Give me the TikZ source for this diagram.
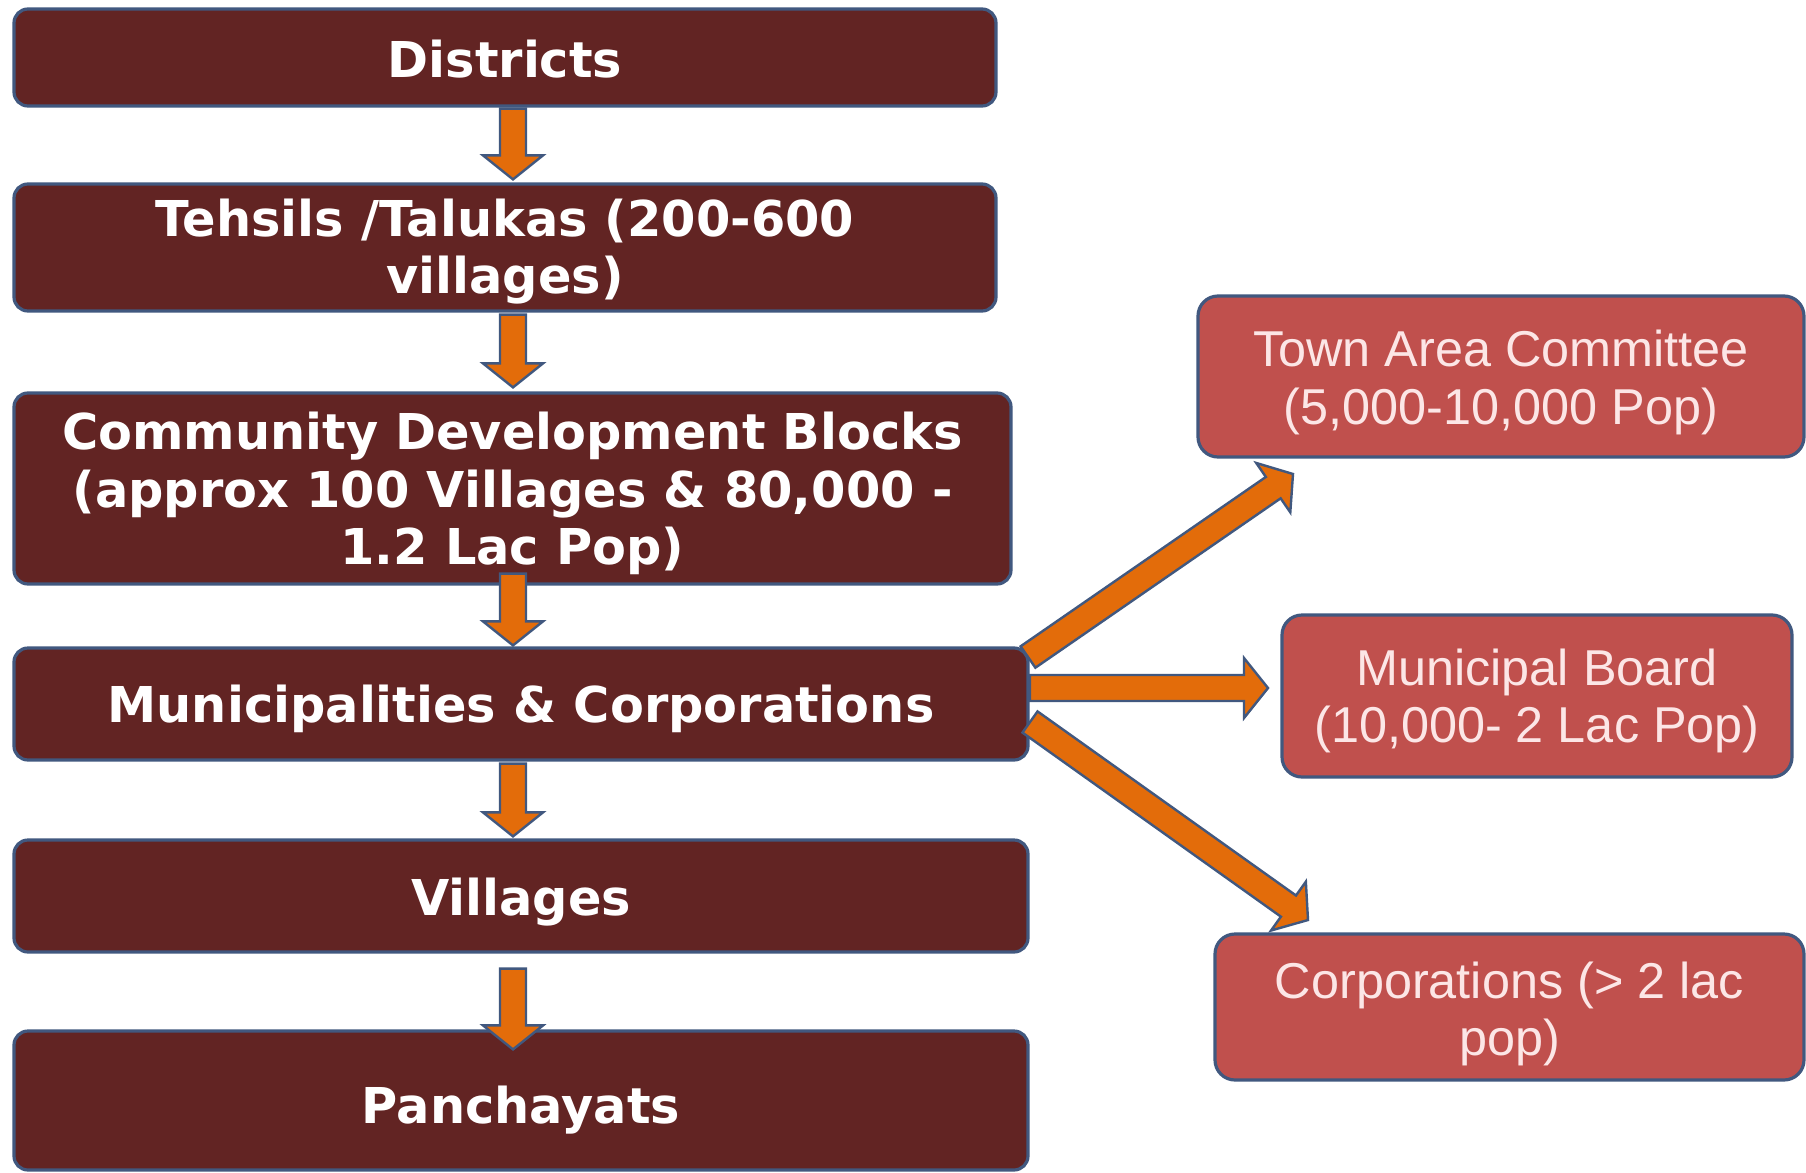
\documentclass[tikz,border=0pt]{standalone}
\usepackage{fontspec}
\usetikzlibrary{calc}
\newfontfamily\headfont{DejaVu Sans}
\newfontfamily\subfont{Liberation Sans}
\definecolor{darkbox}{HTML}{622423}
\definecolor{redbox}{HTML}{C0504D}
\definecolor{edge}{HTML}{41587F}
\definecolor{arrfill}{HTML}{E36C0A}
\definecolor{paletext}{HTML}{FCE6E6}
\newcommand\sw{6.5pt}
\newcommand\hw{15pt}
\newcommand\hl{12pt}
\newcommand\fatarrow[2]{%
  \draw[fatarr] ($(#1)!\sw!90:(#2)$)
    -- ($(#2)!\hl!(#1)!\sw!-90:(#1)$)
    -- ($(#2)!\hl!(#1)!\hw!-90:(#1)$)
    -- (#2)
    -- ($(#2)!\hl!(#1)!\hw!90:(#1)$)
    -- ($(#2)!\hl!(#1)!\sw!90:(#1)$)
    -- ($(#1)!\sw!-90:(#2)$) -- cycle;}
\begin{document}
\begin{tikzpicture}[x=0.5pt,y=-0.5pt,
  darknode/.style={draw=edge, line width=1.6pt, fill=darkbox, rounded corners=7pt, inner sep=0pt},
  rednode/.style={draw=edge, line width=1.6pt, fill=redbox, rounded corners=10pt, inner sep=0pt},
  darktext/.style={text=white, align=center, inner sep=0pt,
    font=\headfont\bfseries\fontsize{24.7}{28.6}\selectfont},
  redtext/.style={text=paletext, align=center, inner sep=0pt,
    font=\subfont\fontsize{25.2}{28.8}\selectfont},
  fatarr/.style={draw=edge, fill=arrfill, line width=1.2pt, line join=miter}]
\useasboundingbox (0,0) rectangle (1806,1173);
\fill[white] (0,0) rectangle (1806,1173);
% left column boxes
\node[darknode, minimum width=491pt, minimum height=48.5pt] (dist) at (505,57.5) {};
\node[darknode, minimum width=491pt, minimum height=63.5pt] (teh) at (505,247.5) {};
\node[darknode, minimum width=498.5pt, minimum height=95.5pt] (cdb) at (512.5,488.5) {};
\node[darknode, minimum width=507pt, minimum height=56pt] (muni) at (521,704) {};
\node[darknode, minimum width=507pt, minimum height=56pt] (vill) at (521,896) {};
\node[darknode, minimum width=507pt, minimum height=69.5pt] (panch) at (521,1100.5) {};
% right column boxes
\node[rednode, minimum width=303pt, minimum height=80.5pt] (town) at (1501,376.5) {};
\node[rednode, minimum width=255pt, minimum height=81pt] (mb) at (1537,696) {};
\node[rednode, minimum width=294.5pt, minimum height=73pt] (corp) at (1509.5,1007) {};
% texts
\node[darktext] (distT) at ($(dist.center)+(0,2)$) {Districts};
\node[darktext] (tehT) at ($(teh.center)+(0,4)$) {Tehsils /Talukas (200-600\\villages)};
\node[darktext] (cdbT) at ($(cdb.center)+(0,5)$) {Community Development Blocks\\(approx 100 Villages \& 80,000 -\\1.2 Lac Pop)};
\node[darktext] (muniT) at ($(muni.center)+(0,5)$) {Municipalities \& Corporations};
\node[darktext] (villT) at ($(vill.center)+(0,6)$) {Villages};
\node[darktext] (panchT) at ($(panch.center)+(0,10)$) {Panchayats};
\node[redtext] (townT) at ($(town.center)+(0,6)$) {Town Area Committee\\(5,000-10,000 Pop)};
\node[redtext] (mbT) at ($(mb.center)+(0,5)$) {Municipal Board\\(10,000- 2 Lac Pop)};
\node[redtext] (corpT) at ($(corp.center)+(0,7)$) {Corporations (> 2 lac\\pop)};
% arrow end points
\coordinate (a1s) at ($(dist.south)+(8,1)$);
\coordinate (a1e) at ($(teh.north)+(8,-3)$);
\coordinate (a2s) at ($(teh.south)+(8,2)$);
\coordinate (a2e) at ($(cdb.north)+(0.5,-4)$);
\coordinate (a3s) at ($(cdb.south)+(0.5,-12)$);
\coordinate (a3e) at ($(muni.north)+(-8,-1)$);
\coordinate (a4s) at ($(muni.south)+(-8,2)$);
\coordinate (a4e) at ($(vill.north)+(-8,-2)$);
\coordinate (a5s) at ($(vill.south)+(-8,15)$);
\coordinate (a5e) at ($(panch.north)+(-8,20)$);
\coordinate (d1s) at (1028,657);
\coordinate (d1e) at (1293,474);
\coordinate (d2s) at (1030,688);
\coordinate (d2e) at (1268,688);
\coordinate (d3s) at (1030,722);
\coordinate (d3e) at (1308,920);
% arrows
\fatarrow{a1s}{a1e}
\fatarrow{a2s}{a2e}
\fatarrow{a3s}{a3e}
\fatarrow{a4s}{a4e}
\fatarrow{a5s}{a5e}
\fatarrow{d1s}{d1e}
\fatarrow{d2s}{d2e}
\fatarrow{d3s}{d3e}
\end{tikzpicture}
\end{document}
